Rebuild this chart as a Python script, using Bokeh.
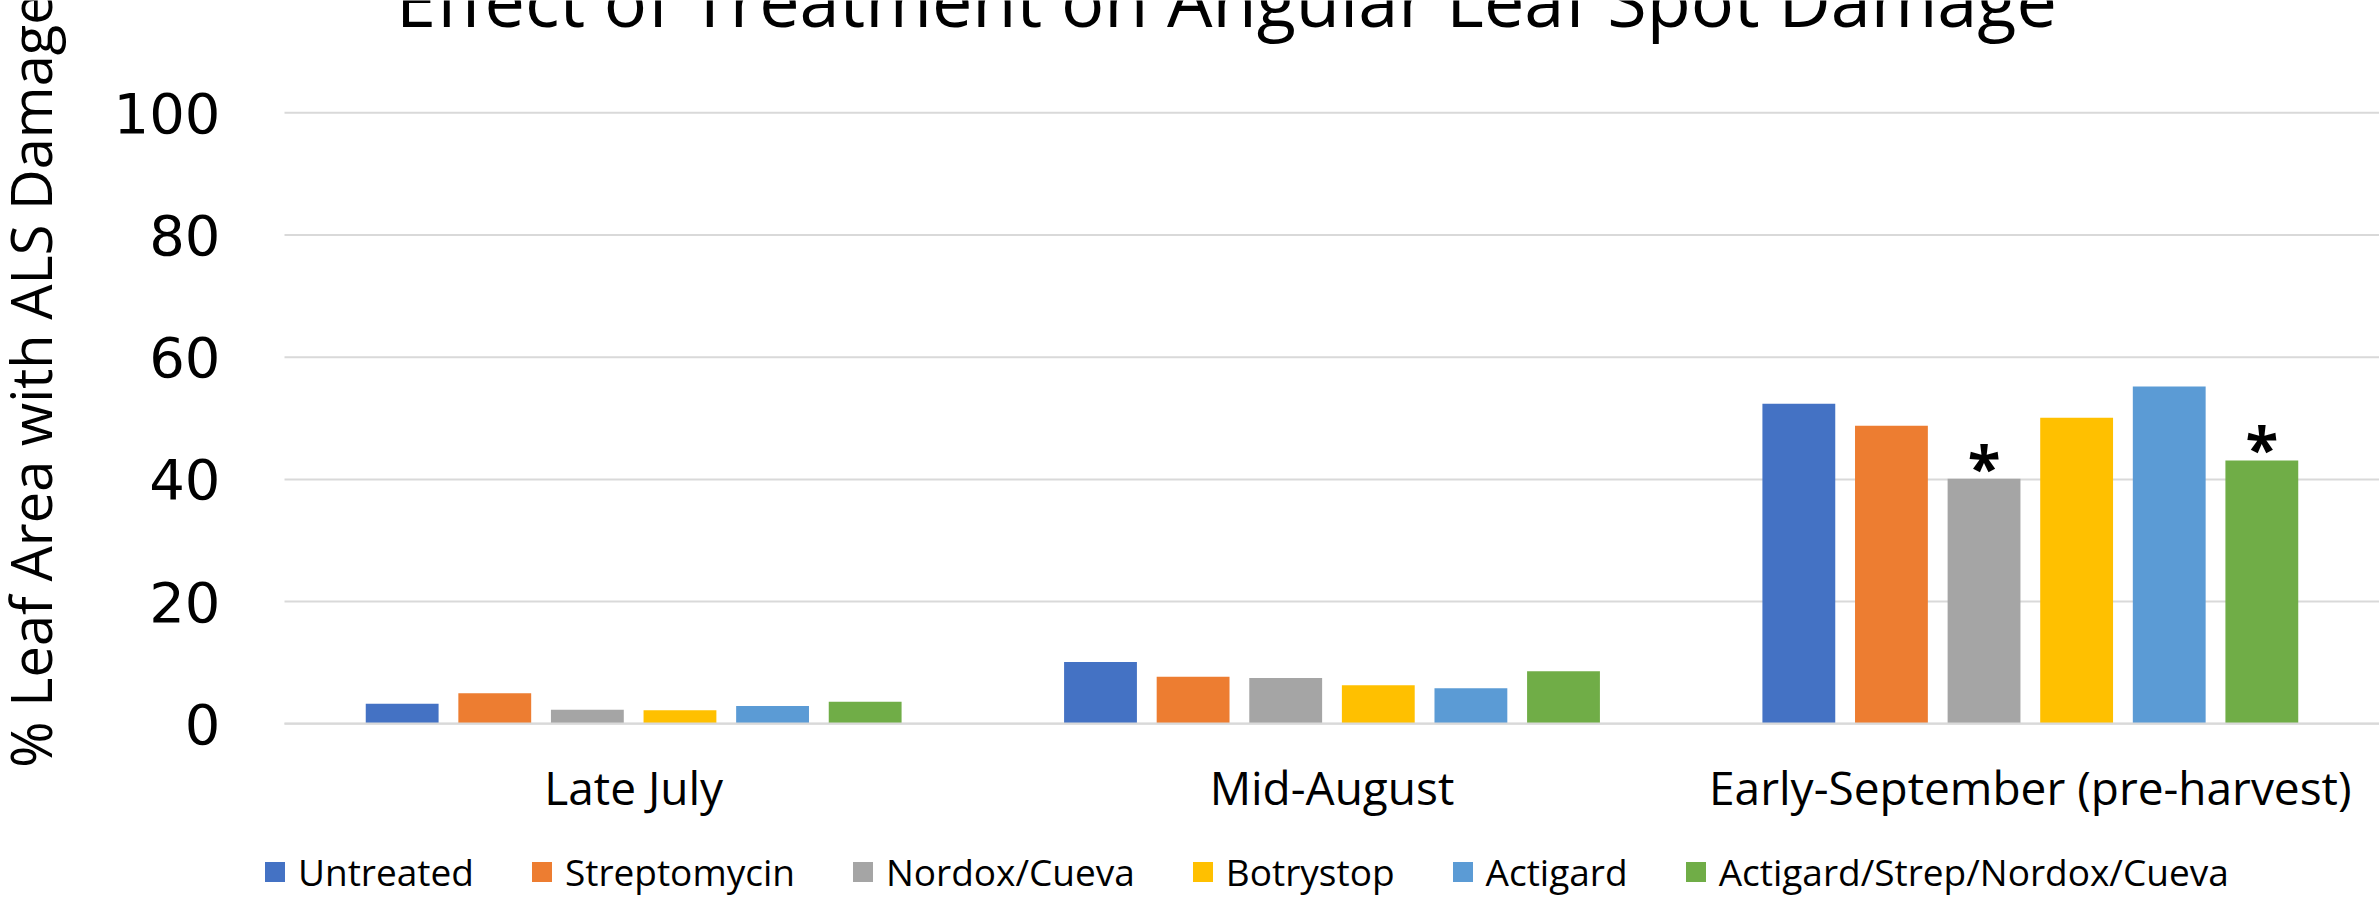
import math
from bokeh.plotting import figure
from bokeh.models import Range1d, FixedTicker, Label, Legend, LegendItem, ColumnDataSource
from bokeh.core.properties import value
from bokeh.embed import file_html
from bokeh.resources import INLINE

# ---------------- data ----------------
title_text = "Effect of Treatment on Angular Leaf Spot Damage"
y_label_text = "% Leaf Area with ALS Damage"
periods = ["Late July", "Mid-August", "Early-September (pre-harvest)"]
treatments = ["Untreated", "Streptomycin", "Nordox/Cueva", "Botrystop",
              "Actigard", "Actigard/Strep/Nordox/Cueva"]
untreated = [3.3, 10.1, 52.4]
streptomycin = [5.0, 7.7, 48.8]
nordox_cueva = [2.3, 7.5, 40.1]
botrystop = [2.2, 6.3, 50.1]
actigard = [2.9, 5.8, 55.2]
combo = [3.6, 8.6, 43.1]
# significance marks on the Early-September group
sept_marks = ["", "", "*", "", "", "*"]
y_ticks = [0, 20, 40, 60, 80, 100]

series = [untreated, streptomycin, nordox_cueva, botrystop, actigard, combo]
colors = ["#4472C4", "#ED7D31", "#A5A5A5", "#FFC000", "#5B9BD5", "#70AD47"]

# ---------------- layout (pixels) ----------------
W, H = 2379, 897
PLOT_LEFT = 284                 # x pixel of the plot area's left edge
ZERO_Y = 723.3                  # y pixel (from top) of value 0
PX_PER_UNIT = 6.11              # pixels per percent
CAT_PX = (W - PLOT_LEFT) / len(periods)
step = 0.1326                   # bar step in category units
bar_w = 0.1043
FONT = "Open Sans"

p = figure(width=W, height=H, output_backend="svg", toolbar_location=None,
           x_range=Range1d(-PLOT_LEFT / CAT_PX, len(periods)),
           y_range=Range1d(-(H - ZERO_Y) / PX_PER_UNIT, ZERO_Y / PX_PER_UNIT),
           min_border=0)
p.outline_line_color = None
p.background_fill_color = "white"
p.border_fill_color = "white"
p.xgrid.visible = False
p.ygrid.visible = False

# horizontal gridlines across the plot area
p.segment(x0=[0] * len(y_ticks), x1=[len(periods)] * len(y_ticks),
          y0=y_ticks, y1=y_ticks, line_color="#D9D9D9", line_width=2,
          level="underlay")

centers = [i + 0.5 for i in range(len(periods))]
items = []
for s, (vals, col, name) in enumerate(zip(series, colors, treatments)):
    xs = [c + (s - (len(series) - 1) / 2) * step for c in centers]
    src = ColumnDataSource(dict(x=xs, top=vals))
    r = p.vbar(x="x", top="top", width=bar_w, bottom=0, source=src,
               fill_color=col, line_color=None)
    items.append(LegendItem(label=name, renderers=[r]))

# asterisks over the Early-September bars
mx, my, mt = [], [], []
for s, mark in enumerate(sept_marks):
    if mark:
        mx.append(centers[2] + (s - (len(series) - 1) / 2) * step)
        my.append(series[s][2])
        mt.append(mark)
p.text(x=mx, y=my, text=mt, text_font=value(FONT), text_font_size="60px",
       text_font_style="bold", text_align="center", text_baseline="alphabetic",
       y_offset=-12, text_color="black")

# axes (fixed inside the full-canvas frame)
p.yaxis.fixed_location = 0
p.yaxis.bounds = (0, 100)
p.yaxis.ticker = FixedTicker(ticks=y_ticks)
p.yaxis.axis_line_color = None
p.yaxis.major_tick_line_color = None
p.yaxis.minor_tick_line_color = None
p.yaxis.major_tick_out = 0
p.yaxis.major_label_standoff = 64
p.yaxis.major_label_text_font = "DejaVu Sans"
p.yaxis.major_label_text_font_size = "56px"
p.yaxis.major_label_text_color = "black"

p.xaxis.fixed_location = 0
p.xaxis.bounds = (0, len(periods))
p.xaxis.ticker = FixedTicker(ticks=centers)
p.xaxis.major_label_overrides = {c: lab for c, lab in zip(centers, periods)}
p.xaxis.axis_line_color = "#D9D9D9"
p.xaxis.axis_line_width = 2
p.xaxis.major_tick_line_color = None
p.xaxis.minor_tick_line_color = None
p.xaxis.major_tick_out = 0
p.xaxis.major_label_standoff = 32
p.xaxis.major_label_text_font = FONT
p.xaxis.major_label_text_font_size = "46px"
p.xaxis.major_label_text_color = "black"

# title and y label
p.add_layout(Label(x=1226, y=H + 2, x_units="screen", y_units="screen",
                   text=title_text, text_font=FONT, text_font_size="72px",
                   text_align="center", text_baseline="alphabetic",
                   text_color="black"))
p.add_layout(Label(x=29, y=H - 380, x_units="screen", y_units="screen",
                   angle=math.pi / 2, text=y_label_text, text_font=FONT,
                   text_font_size="56px", text_align="center",
                   text_baseline="alphabetic", text_color="black"))

legend = Legend(items=items, orientation="horizontal", location=(262, 0),
                label_text_font=FONT, label_text_font_size="37px",
                label_text_color="black", glyph_width=25, glyph_height=25,
                label_standoff=11, spacing=55, padding=0, margin=0,
                border_line_alpha=0, background_fill_alpha=0)
p.add_layout(legend, "center")

open("out.html", "w").write(file_html(p, INLINE))
